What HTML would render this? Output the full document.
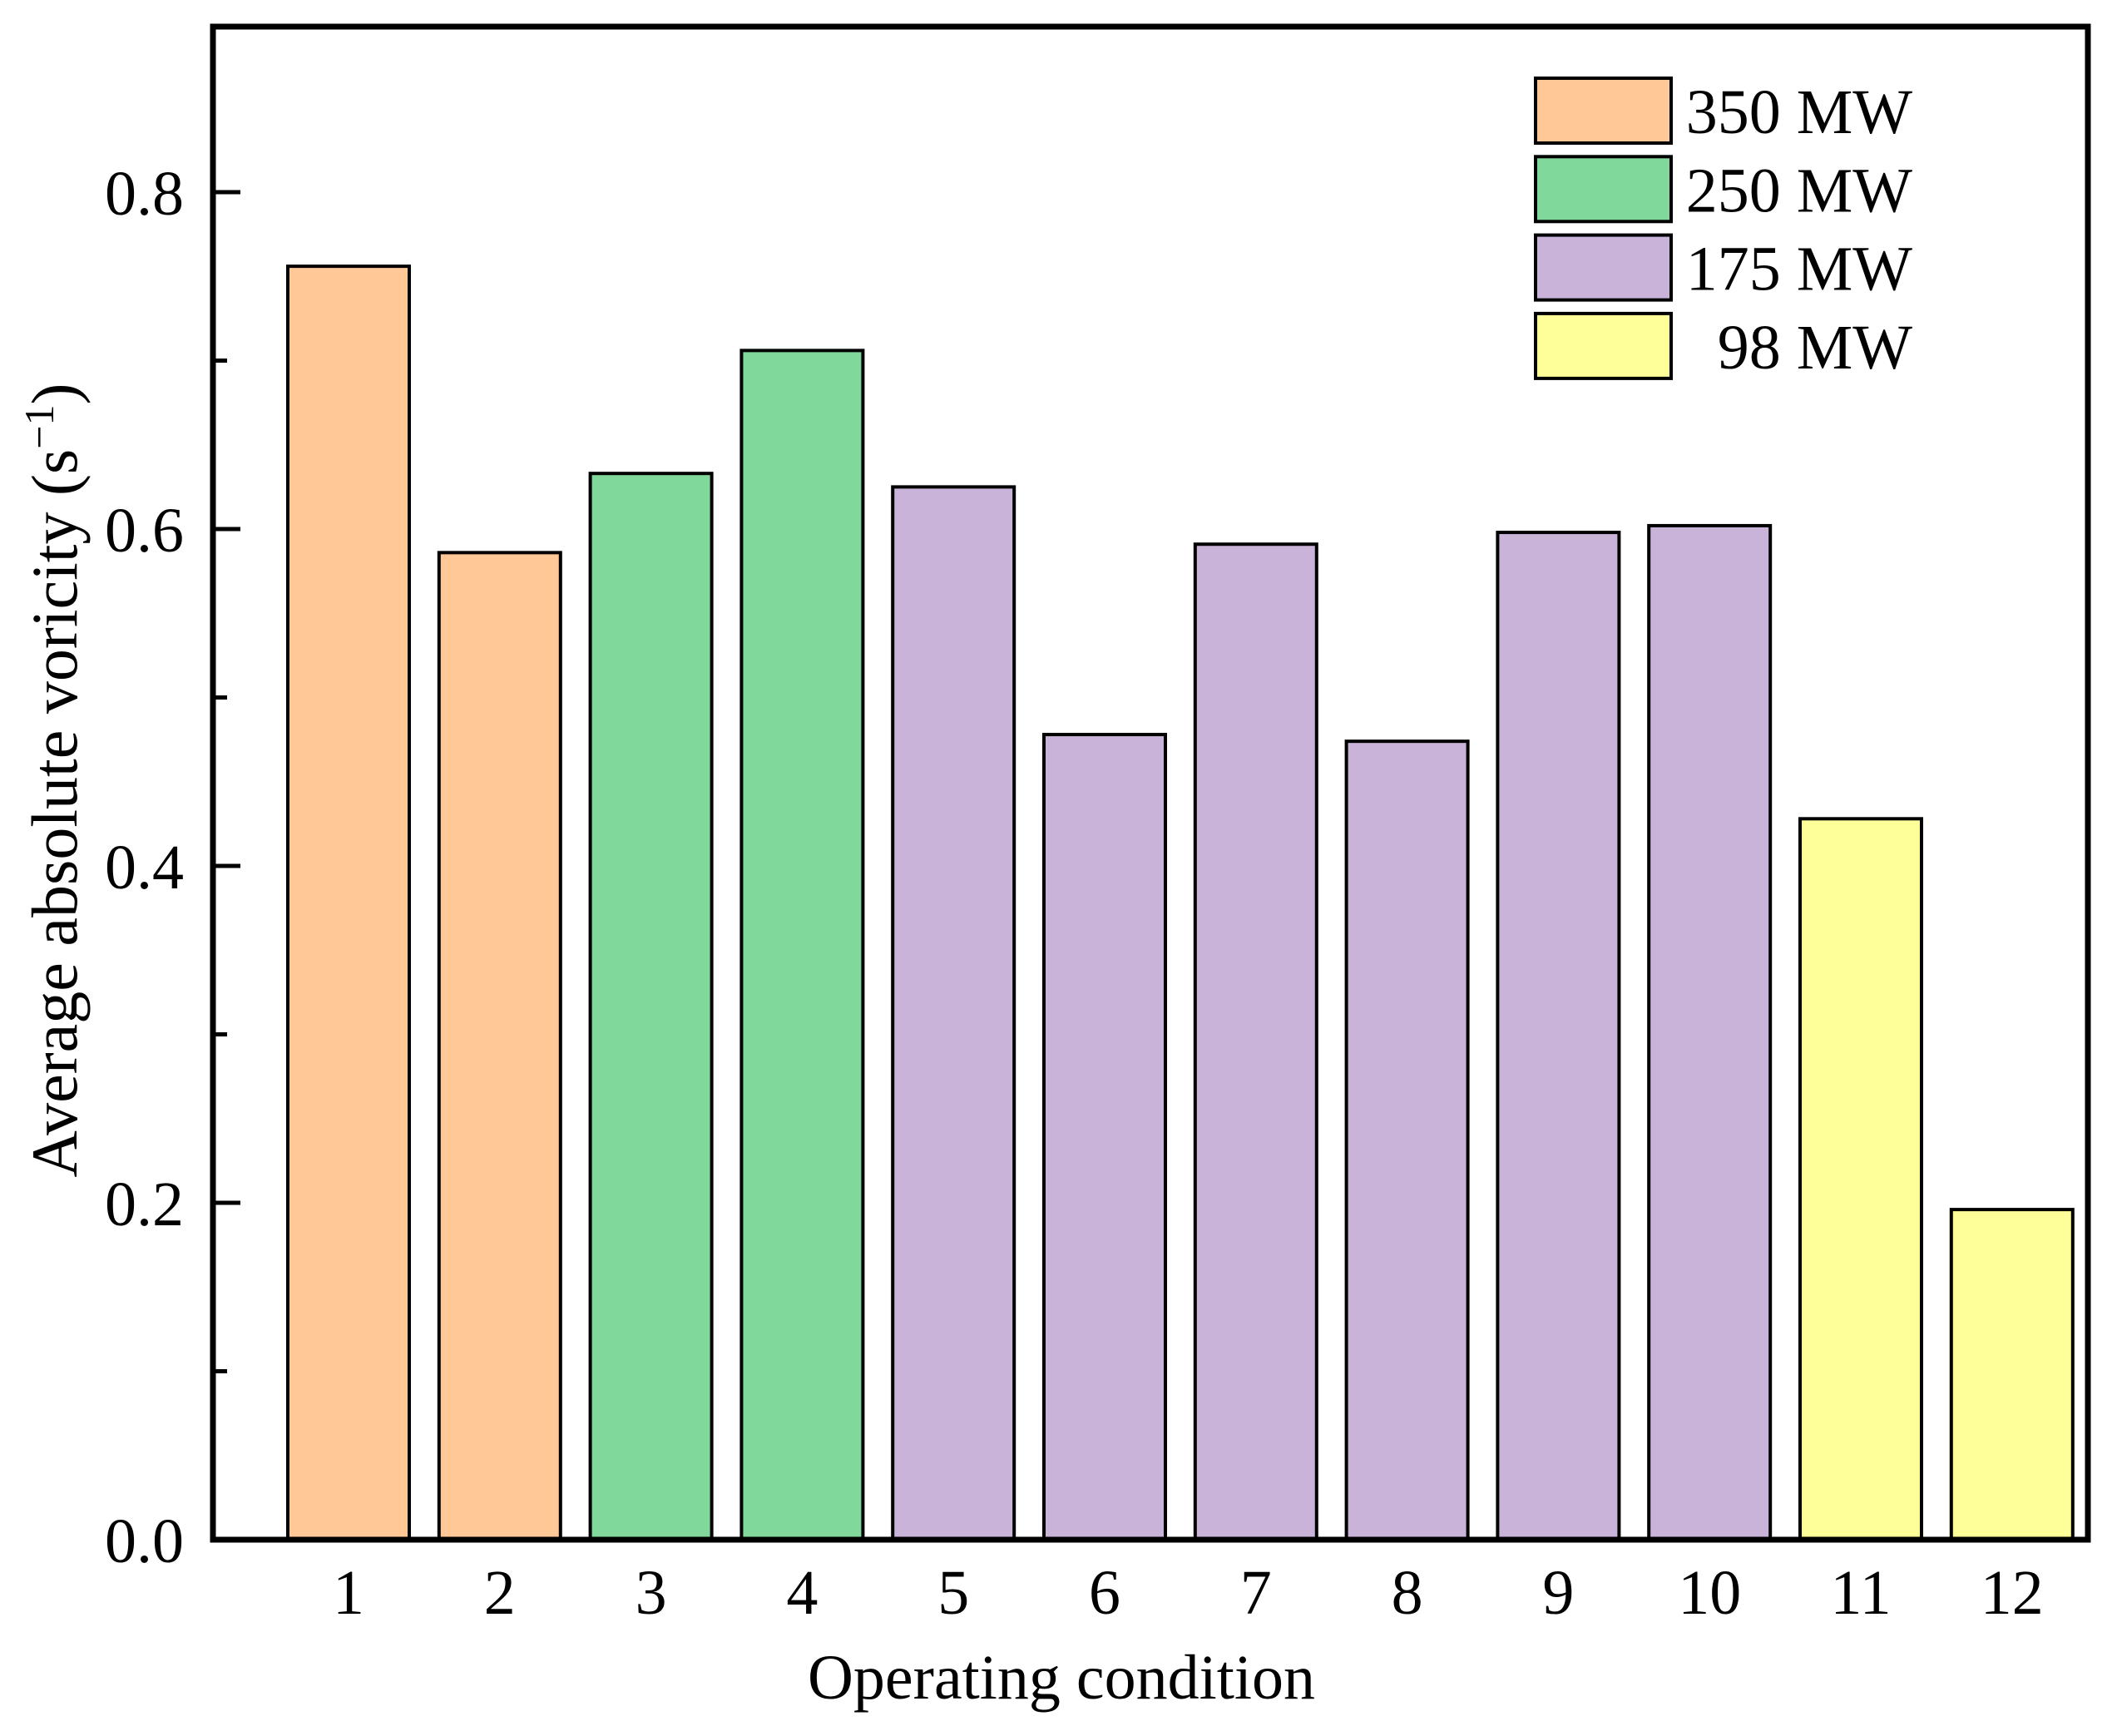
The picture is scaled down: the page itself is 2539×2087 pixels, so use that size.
<!DOCTYPE html>
<html><head><meta charset="utf-8"><style>
html,body{margin:0;padding:0;background:#fff}
svg{display:block;font-family:"Liberation Serif",serif}
</style></head><body>
<svg id="chart" width="2539" height="2087" viewBox="0 0 2539 2087">
<g id="bars"></g>
<g id="axes"></g>
<g id="legend"></g>
<text x="1276" y="2042" font-size="76" text-anchor="middle">Operating condition</text>
<text transform="translate(92,938) rotate(-90)" font-size="78" text-anchor="middle">Average absolute voricity (s<tspan baseline-shift="super" font-size="50">−1</tspan>)</text>
</svg>
<script>
const categories = ["1","2","3","4","5","6","7","8","9","10","11","12"];
const values = [0.756,0.586,0.633,0.706,0.625,0.478,0.591,0.474,0.598,0.602,0.428,0.196];
const groups = [0,0,1,1,2,2,2,2,2,2,3,3];
const seriesNames = ["350 MW","250 MW","175 MW","98 MW"];
const seriesColors = ["#FFC896","#80D99A","#C9B3D8","#FFFF99"];
const yTicks = [0,0.2,0.4,0.6,0.8];
const yTickLabels = ["0.0","0.2","0.4","0.6","0.8"];
const yMinorTicks = [0.1,0.3,0.5,0.7];

const NS="http://www.w3.org/2000/svg";
const L=256,R=2510,T=32,B=1851;
function y(v){return B - v*2025;}
function xc(i){return 419 + i*181.8;}
const bw=146;
function mk(tag,attrs,parent){const e=document.createElementNS(NS,tag);for(const k in attrs)e.setAttribute(k,attrs[k]);parent.appendChild(e);return e;}
const bars=document.getElementById('bars'),axes=document.getElementById('axes'),leg=document.getElementById('legend');
values.forEach((v,i)=>{
  const r=mk('rect',{x:xc(i)-bw/2,y:y(v),width:bw,height:B-y(v),fill:seriesColors[groups[i]],stroke:'#000','stroke-width':4},bars);
  
  
  const t=mk('text',{x:xc(i),y:1940,'font-size':76,'text-anchor':'middle'},axes);
  t.textContent=categories[i];
  
  
});
yTicks.forEach((v,i)=>{
  const l=mk('line',{x1:L,x2:L+33,y1:y(v),y2:y(v),stroke:'#000','stroke-width':5},axes);
  
  
  const t=mk('text',{x:221,y:y(v)+27,'font-size':76,'text-anchor':'end'},axes);
  t.textContent=yTickLabels[i];
  
  
});
yMinorTicks.forEach(v=>{
  const l=mk('line',{x1:L,x2:L+17,y1:y(v),y2:y(v),stroke:'#000','stroke-width':5},axes);
  
  
});
const frame=mk('rect',{x:L,y:T,width:R-L,height:B-T,fill:'none',stroke:'#000','stroke-width':7},axes);


seriesNames.forEach((n,i)=>{
  const top=94+i*94.3;
  const r=mk('rect',{x:1846,y:top,width:163,height:78,fill:seriesColors[i],stroke:'#000','stroke-width':4},leg);
  
  
  const t=mk('text',{x:2299,y:top+66,'font-size':76,'text-anchor':'end'},leg);
  t.textContent=n;
  
  
});
</script>
</body></html>
